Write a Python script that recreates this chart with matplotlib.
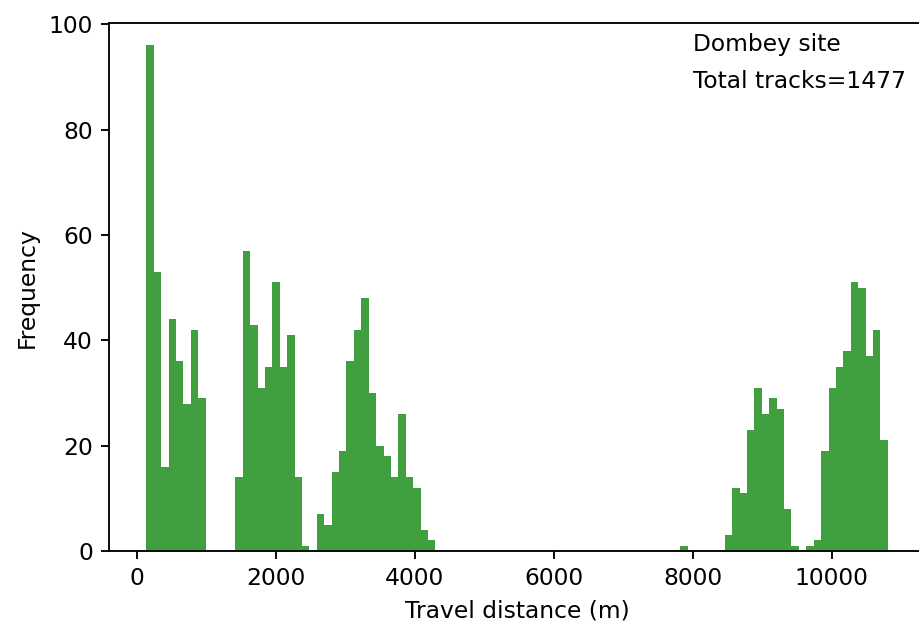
import numpy as np
import matplotlib
matplotlib.use('Agg')
import matplotlib.pyplot as plt

# Travel distance range covered by the histogram (m)
dist_min = 138
dist_max = 10809

# Track counts per bin, 100 equal-width bins from dist_min to dist_max
counts = [
    96, 53, 16, 44, 36, 28, 42, 29, 0, 0,
    0, 0, 14, 57, 43, 31, 35, 51, 35, 41,
    14, 1, 0, 7, 5, 15, 19, 36, 42, 48,
    30, 20, 18, 14, 26, 14, 12, 4, 2, 0,
    0, 0, 0, 0, 0, 0, 0, 0, 0, 0,
    0, 0, 0, 0, 0, 0, 0, 0, 0, 0,
    0, 0, 0, 0, 0, 0, 0, 0, 0, 0,
    0, 0, 1, 0, 0, 0, 0, 0, 3, 12,
    11, 23, 31, 26, 29, 27, 8, 1, 0, 1,
    2, 19, 31, 35, 38, 51, 50, 37, 42, 21,
]

site_name = 'Dombey site'

edges = np.linspace(dist_min, dist_max, len(counts) + 1)

dpi = 168
fig = plt.figure(figsize=(919 / dpi, 623 / dpi), dpi=dpi)
ax = fig.add_axes([0.1188, 0.1156, 0.8877, 0.847])

ax.hist(edges[:-1], bins=edges, weights=counts, facecolor='g', alpha=0.75)
ax.set_ylim(0, 100.2)

ax.set_xlabel('Travel distance (m)')
ax.set_ylabel('Frequency')

ax.text(8000, 95, site_name)
ax.text(8000, 88, f'Total tracks={sum(counts)}')

fig.savefig('out.png', dpi=dpi)
